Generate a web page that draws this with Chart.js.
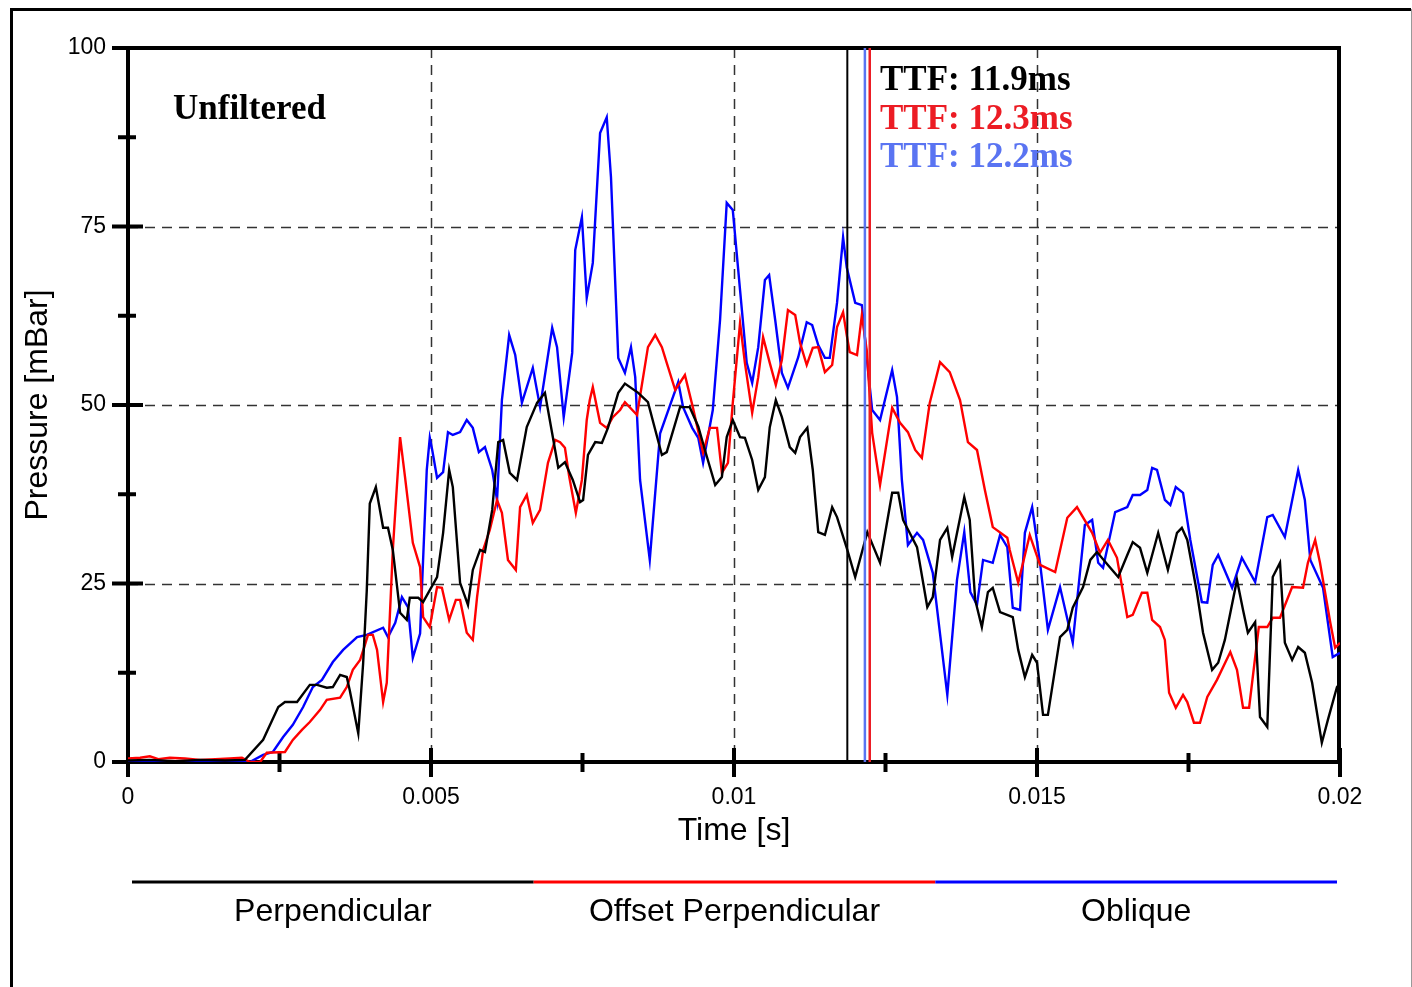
<!DOCTYPE html>
<html>
<head>
<meta charset="utf-8">
<title>Unfiltered pressure traces</title>
<script src="https://cdn.jsdelivr.net/npm/chart.js@4.4.1/dist/chart.umd.min.js"></script>
<style>
  html, body { margin: 0; padding: 0; background: #fff; }
  #wrap { width: 1412px; height: 987px; }
</style>
</head>
<body>
<div id="wrap"><canvas id="graph" width="1412" height="987"></canvas></div>
<script>
const perpTimeMs = [0, 0.36, 0.78, 1.19, 1.60, 1.93, 2.23, 2.48, 2.59, 2.79,
    3.00, 3.12, 3.28, 3.38, 3.50, 3.61, 3.66, 3.80, 3.88, 3.94,
    3.99, 4.09, 4.21, 4.29, 4.37, 4.49, 4.60, 4.65, 4.79, 4.87,
    5.10, 5.20, 5.30, 5.36, 5.48, 5.61, 5.69, 5.81, 5.89, 6.01,
    6.11, 6.19, 6.30, 6.42, 6.58, 6.75, 6.88, 7.00, 7.10, 7.21,
    7.34, 7.46, 7.51, 7.59, 7.71, 7.82, 7.92, 8.09, 8.20, 8.42,
    8.58, 8.81, 8.89, 9.11, 9.27, 9.41, 9.52, 9.69, 9.80, 9.88,
    9.98, 10.10, 10.18, 10.30, 10.40, 10.51, 10.59, 10.69, 10.79, 10.92,
    11.01, 11.09, 11.21, 11.30, 11.39, 11.50, 11.62, 11.70, 11.87, 12.00,
    12.20, 12.41, 12.61, 12.71, 12.79, 13.02, 13.19, 13.28, 13.40, 13.52,
    13.60, 13.80, 13.89, 13.98, 14.09, 14.19, 14.27, 14.39, 14.60, 14.69,
    14.80, 14.92, 15.00, 15.10, 15.18, 15.38, 15.50, 15.59, 15.76, 15.88,
    15.99, 16.17, 16.34, 16.49, 16.58, 16.70, 16.82, 17.00, 17.16, 17.31,
    17.39, 17.48, 17.64, 17.74, 17.89, 17.99, 18.10, 18.30, 18.40, 18.48,
    18.60, 18.68, 18.80, 18.89, 19.01, 19.09, 19.21, 19.31, 19.42, 19.54,
    19.70, 19.80, 19.95, 20.00];
const perpValues = [0.2, 0.3, 0.1, 0.3, 0.2, 0.3, 3.1, 7.7, 8.4, 8.4,
    10.8, 10.8, 10.4, 10.5, 12.2, 11.9, 10, 4, 13.8, 24,
    36.2, 38.5, 32.8, 32.8, 29.7, 20.9, 19.9, 23, 23, 22.4,
    25.9, 32.1, 40.9, 38.5, 25.1, 22, 26.9, 29.7, 29.4, 35.3,
    44.8, 45.1, 40.5, 39.5, 46.9, 50.3, 51.7, 46, 41.2, 42,
    39.5, 36.4, 36.7, 43, 44.8, 44.7, 46.8, 51.7, 53, 51.7,
    50.4, 43, 43.4, 49.7, 49.7, 47, 43.7, 38.8, 39.9, 45.5,
    47.9, 45.5, 45.4, 42.3, 38.1, 39.9, 46.9, 50.7, 48.3, 44.1,
    43.3, 45.5, 46.8, 40.9, 32.2, 31.8, 35.7, 34.3, 29.7, 25.9,
    32.2, 27.9, 37.7, 37.7, 33.9, 30.1, 21.7, 23.1, 31.1, 32.8,
    28.7, 37.1, 33.9, 22.7, 18.9, 23.8, 24.4, 21, 20.3, 15.7,
    11.9, 15, 13.9, 6.6, 6.6, 17.5, 18.5, 21.6, 24.5, 28.3,
    29.4, 27.6, 25.9, 29, 30.8, 30, 26.5, 32.1, 26.9, 32.1,
    32.8, 31.1, 23.7, 18.1, 12.9, 13.9, 17.1, 25.5, 21.3, 18.1,
    19.6, 6.3, 4.9, 25.9, 27.9, 16.7, 14.3, 16.1, 15.3, 11.1,
    2.7, 5.9, 10.5, 11];

const offsetTimeMs = [0, 0.20, 0.36, 0.50, 0.69, 0.94, 1.19, 1.44, 1.68, 1.88,
    2.01, 2.18, 2.29, 2.59, 2.72, 2.87, 3.00, 3.17, 3.28, 3.50,
    3.61, 3.71, 3.83, 3.91, 3.96, 4.04, 4.11, 4.21, 4.27, 4.32,
    4.37, 4.44, 4.49, 4.57, 4.70, 4.82, 4.87, 4.98, 5.10, 5.18,
    5.30, 5.41, 5.48, 5.59, 5.69, 5.76, 5.86, 5.97, 6.09, 6.17,
    6.27, 6.40, 6.47, 6.58, 6.68, 6.80, 6.93, 7.05, 7.13, 7.21,
    7.28, 7.39, 7.49, 7.57, 7.62, 7.67, 7.79, 7.90, 8.00, 8.12,
    8.20, 8.40, 8.58, 8.70, 8.81, 8.89, 9.03, 9.19, 9.32, 9.49,
    9.60, 9.72, 9.80, 9.90, 9.98, 10.10, 10.18, 10.30, 10.40, 10.48,
    10.59, 10.69, 10.79, 10.89, 11.01, 11.09, 11.20, 11.30, 11.39, 11.50,
    11.62, 11.70, 11.80, 11.86, 11.91, 12.03, 12.11, 12.19, 12.28, 12.41,
    12.61, 12.74, 12.87, 12.99, 13.10, 13.23, 13.40, 13.56, 13.73, 13.86,
    14.01, 14.14, 14.27, 14.51, 14.55, 14.69, 14.88, 15.05, 15.30, 15.50,
    15.66, 15.91, 16.04, 16.17, 16.32, 16.49, 16.58, 16.73, 16.82, 16.90,
    17.03, 17.11, 17.18, 17.29, 17.41, 17.48, 17.59, 17.69, 17.81, 17.97,
    18.19, 18.30, 18.40, 18.50, 18.66, 18.80, 18.89, 19.01, 19.21, 19.39,
    19.47, 19.59, 19.67, 19.84, 19.92, 20.00];
const offsetValues = [0.5, 0.6, 0.8, 0.4, 0.6, 0.5, 0.3, 0.4, 0.5, 0.6,
    0, 0, 1.3, 1.4, 3.1, 4.5, 5.6, 7.3, 8.7, 9,
    10.5, 12.9, 14.3, 16.4, 17.8, 17.8, 15.7, 8.4, 11.1, 20.3,
    29.7, 39, 45.5, 40, 30.7, 27.3, 20.3, 18.9, 24.5, 24.4,
    19.9, 22.7, 22.7, 18.1, 17.1, 23.1, 29.7, 32.5, 36.7, 34.9,
    28.3, 26.9, 35.7, 37.4, 33.5, 35.3, 41.9, 45.1, 44.8, 44,
    40, 34.9, 39.5, 47.9, 50.7, 52.5, 47.5, 46.8, 48.3, 49.3,
    50.4, 48.6, 58.1, 59.8, 58.1, 55.9, 52.1, 54.2, 49.7, 43.3,
    46.8, 46.8, 40.5, 41.9, 50.3, 61.5, 55.9, 48.9, 53.9, 59.5,
    55.9, 52.8, 56.3, 63.3, 62.6, 58.7, 55.6, 58, 58.1, 54.6,
    55.6, 60.9, 63, 59.8, 57.4, 57, 62.6, 57.7, 46.1, 38.8,
    49.6, 47.5, 46.2, 43.7, 42.6, 50.3, 56, 54.6, 50.7, 44.8,
    43.7, 38.1, 32.9, 31.4, 29.7, 25.1, 31.8, 27.6, 26.6, 34.2,
    35.7, 32.1, 29.3, 31.1, 28.6, 20.3, 20.6, 23.7, 23.7, 19.9,
    18.9, 17.1, 9.7, 7.6, 9.4, 8.4, 5.5, 5.5, 9.1, 11.5,
    15.4, 12.9, 7.6, 7.6, 18.9, 18.9, 20.2, 20.2, 24.5, 24.4,
    27.9, 31.1, 27.9, 19.5, 16, 16.7];

const obliqueTimeMs = [0, 0.53, 1.19, 1.68, 2.01, 2.23, 2.39, 2.56, 2.72, 2.89,
    3.05, 3.20, 3.38, 3.55, 3.78, 3.94, 4.21, 4.29, 4.41, 4.52,
    4.62, 4.70, 4.82, 4.93, 4.98, 5.02, 5.10, 5.20, 5.28, 5.36,
    5.48, 5.59, 5.69, 5.79, 5.89, 6.01, 6.09, 6.17, 6.29, 6.39,
    6.50, 6.68, 6.80, 7.00, 7.08, 7.19, 7.33, 7.38, 7.49, 7.57,
    7.67, 7.79, 7.90, 7.97, 8.09, 8.20, 8.30, 8.37, 8.45, 8.61,
    8.78, 9.08, 9.16, 9.31, 9.41, 9.49, 9.65, 9.77, 9.88, 9.98,
    10.10, 10.21, 10.30, 10.40, 10.51, 10.58, 10.68, 10.79, 10.89, 11.06,
    11.20, 11.29, 11.39, 11.50, 11.58, 11.70, 11.80, 11.86, 12.00, 12.11,
    12.19, 12.28, 12.41, 12.61, 12.69, 12.77, 12.87, 13.02, 13.12, 13.28,
    13.52, 13.68, 13.80, 13.90, 14.01, 14.11, 14.27, 14.39, 14.51, 14.60,
    14.72, 14.80, 14.92, 15.05, 15.18, 15.38, 15.59, 15.79, 15.91, 16.01,
    16.09, 16.29, 16.49, 16.58, 16.70, 16.82, 16.90, 16.98, 17.11, 17.20,
    17.29, 17.41, 17.53, 17.72, 17.81, 17.90, 17.99, 18.22, 18.38, 18.60,
    18.80, 18.89, 19.09, 19.31, 19.42, 19.51, 19.72, 19.88, 20.00];
const obliqueValues = [0, 0.1, 0, 0.1, 0, 1, 1.4, 3.5, 5.2, 7.7,
    10.5, 11.5, 14, 15.7, 17.5, 17.8, 18.8, 17.5, 19.5, 23.1,
    21.7, 14.6, 18, 40.9, 45.4, 43.7, 39.8, 40.6, 46.2, 45.8,
    46.2, 47.9, 46.8, 43.4, 44.1, 40.9, 36.7, 50.7, 59.8, 57,
    50.3, 55.2, 49.7, 60.8, 58.1, 48.3, 57.3, 71.7, 76.3, 65,
    69.9, 88.1, 90.3, 81.9, 56.6, 54.5, 58.1, 53.9, 39.5, 28.3,
    46, 53.2, 49.7, 46.8, 45.4, 41.9, 49.3, 61.9, 78.3, 77.3,
    66.1, 55.9, 53.1, 58.1, 67.5, 68.2, 61.9, 54.5, 52.4, 56.7,
    61.6, 61.2, 58.4, 56.6, 56.6, 64.3, 73.5, 69.3, 64.3, 64,
    56.7, 49.3, 47.9, 54.9, 51.1, 39.5, 30.4, 32.1, 31.1, 26.5,
    9.4, 25.5, 32.2, 23.8, 22, 28.3, 27.9, 31.8, 30.1, 21.6,
    21.3, 32.1, 35.7, 27.9, 18.5, 24.5, 16.7, 33.2, 33.9, 27.9,
    27.2, 35, 35.7, 37.4, 37.4, 38.1, 41.2, 40.9, 36.7, 36,
    38.5, 37.7, 31.1, 22.4, 22.3, 27.6, 29, 24.4, 28.6, 25.2,
    34.3, 34.6, 31.5, 40.9, 36.7, 28.3, 24.4, 14.7, 15.3];

const seriesLabels = ['Perpendicular', 'Offset Perpendicular', 'Oblique'];
const seriesColors = ['#000000', '#ff0000', '#0000ff'];

// time to failure markers
const ttfLabels = ['TTF: 11.9ms', 'TTF: 12.3ms', 'TTF: 12.2ms'];
const ttfLineMs = [11.87, 12.24, 12.16];
const ttfColors = ['#000000', '#ec1c24', '#5a74f2'];

const plotTitle = 'Unfiltered';

function toPoints(timesMs, values) {
    return timesMs.map((t, i) => ({x: t / 1000, y: values[i]}));
}

const sansFont = '"Liberation Sans", Arial, sans-serif';
const serifFont = '"Liberation Serif", "Times New Roman", serif';

// grid, frame and crossing ticks (drawn under the curves)
const frameUnder = {
    id: 'frameUnder',
    beforeDraw(chart) {
        const ctx = chart.ctx;
        ctx.save();
        ctx.fillStyle = '#fff';
        ctx.fillRect(0, 0, chart.width, chart.height);
        // outer border of the figure
        ctx.strokeStyle = '#000';
        ctx.lineWidth = 3;
        ctx.beginPath();
        ctx.moveTo(11.5, 987);
        ctx.lineTo(11.5, 9.5);
        ctx.lineTo(1411, 9.5);
        ctx.stroke();
        ctx.strokeStyle = '#999';
        ctx.lineWidth = 1;
        ctx.beginPath();
        ctx.moveTo(1411.5, 9);
        ctx.lineTo(1411.5, 987);
        ctx.stroke();
        ctx.restore();
    },
    beforeDatasetsDraw(chart) {
        const {ctx, chartArea: a, scales: {x, y}} = chart;
        ctx.save();
        // dashed grid on the labelled ticks
        ctx.strokeStyle = '#333';
        ctx.lineWidth = 1.5;
        ctx.setLineDash([10, 7]);
        [25, 50, 75].forEach(v => {
            const py = Math.round(y.getPixelForValue(v)) + 0.5;
            ctx.beginPath(); ctx.moveTo(a.left, py); ctx.lineTo(a.right, py); ctx.stroke();
        });
        [0.005, 0.01, 0.015].forEach(v => {
            const px = Math.round(x.getPixelForValue(v)) + 0.5;
            ctx.beginPath(); ctx.moveTo(px, a.top); ctx.lineTo(px, a.bottom); ctx.stroke();
        });
        ctx.setLineDash([]);

        // thick box
        ctx.strokeStyle = '#000';
        ctx.lineWidth = 4;
        ctx.strokeRect(a.left, a.top, a.right - a.left - 1, a.bottom - a.top);

        // y ticks cross the axis
        y.ticks.forEach(t => {
            const py = y.getPixelForValue(t.value);
            const major = Math.abs(t.value % 25) < 1e-6;
            ctx.beginPath();
            ctx.moveTo(a.left - (major ? 16 : 10), py);
            ctx.lineTo(a.left + (major ? 15 : 8), py);
            ctx.stroke();
        });
        // x ticks cross the axis
        x.ticks.forEach(t => {
            const px = x.getPixelForValue(t.value);
            const major = Math.abs(Math.round(t.value * 10000) % 50) === 0;
            ctx.beginPath();
            ctx.moveTo(px, a.bottom - (major ? 14 : 9));
            ctx.lineTo(px, a.bottom + (major ? 15 : 10));
            ctx.stroke();
        });
        ctx.restore();
    }
};

// TTF markers, texts and the legend strip (drawn over the curves)
const frameOver = {
    id: 'frameOver',
    afterDatasetsDraw(chart) {
        const {ctx, chartArea: a, scales: {x}} = chart;
        ctx.save();
        ttfLineMs.forEach((t, i) => {
            const px = x.getPixelForValue(t / 1000);
            ctx.strokeStyle = ttfColors[i];
            ctx.lineWidth = i === 0 ? 2 : 2.5;
            ctx.beginPath();
            ctx.moveTo(px, a.top);
            ctx.lineTo(px, a.bottom);
            ctx.stroke();
        });

        ctx.textBaseline = 'alphabetic';
        ctx.textAlign = 'left';
        ctx.font = 'bold 35px ' + serifFont;
        ctx.fillStyle = '#000';
        ctx.fillText(plotTitle, 173, 119);

        ctx.font = 'bold 35px ' + serifFont;
        ttfLabels.forEach((txt, i) => {
            ctx.fillStyle = ttfColors[i];
            ctx.fillText(txt, 880, 90 + i * 38.5);
        });

        // legend below the axis
        const n = chart.data.datasets.length;
        const lx0 = 132, lx1 = 1337;
        const segW = (lx1 - lx0) / n;
        ctx.font = '32px ' + sansFont;
        ctx.textAlign = 'center';
        ctx.textBaseline = 'middle';
        chart.data.datasets.forEach((ds, i) => {
            ctx.strokeStyle = ds.borderColor;
            ctx.lineWidth = 3;
            ctx.beginPath();
            ctx.moveTo(lx0 + i * segW, 882);
            ctx.lineTo(lx0 + (i + 1) * segW, 882);
            ctx.stroke();
            ctx.fillStyle = '#000';
            ctx.fillText(ds.label, lx0 + (i + 0.5) * segW, 912);
        });
        ctx.restore();
    }
};

const datasets = [
    toPoints(perpTimeMs, perpValues),
    toPoints(offsetTimeMs, offsetValues),
    toPoints(obliqueTimeMs, obliqueValues)
].map((pts, i) => ({
    label: seriesLabels[i],
    data: pts,
    borderColor: seriesColors[i],
    backgroundColor: seriesColors[i],
    borderWidth: 2.4,
    pointRadius: 0,
    tension: 0,
    fill: false
}));

Chart.defaults.font.family = sansFont;
Chart.defaults.color = '#000';

const container = document.getElementById('graph');
const graph = new Chart(container, {
    type: 'line',
    data: {datasets: datasets},
    options: {
        responsive: false,
        animation: false,
        parsing: false,
        layout: {padding: {left: 0, top: 48, right: 72, bottom: 125}},
        plugins: {
            legend: {display: false},
            tooltip: {enabled: false}
        },
        scales: {
            x: {
                type: 'linear',
                min: 0,
                max: 0.02,
                grid: {display: false, drawTicks: false},
                border: {display: false},
                ticks: {
                    stepSize: 0.0025,
                    autoSkip: false,
                    maxRotation: 0,
                    padding: 22,
                    font: {size: 23},
                    callback: function(v) {
                        const k = Math.round(v * 10000);
                        if (k % 50 !== 0) return '';
                        return String(k / 10000);
                    }
                },
                title: {display: true, text: 'Time [s]', font: {size: 32}, padding: {top: 0, bottom: 12}},
                afterFit: function(s) { s.height = 100; }
            },
            y: {
                min: 0,
                max: 100,
                grid: {display: false, drawTicks: false},
                border: {display: false},
                ticks: {
                    stepSize: 12.5,
                    autoSkip: false,
                    padding: 22,
                    font: {size: 23},
                    callback: function(v) {
                        return Math.abs(v % 25) < 1e-6 ? String(v) : '';
                    }
                },
                title: {display: true, text: 'Pressure [mBar]', font: {size: 32}, padding: {top: 19, bottom: 0}},
                afterFit: function(s) { s.width = 128; }
            }
        }
    },
    plugins: [frameUnder, frameOver]
});
</script>
</body>
</html>
